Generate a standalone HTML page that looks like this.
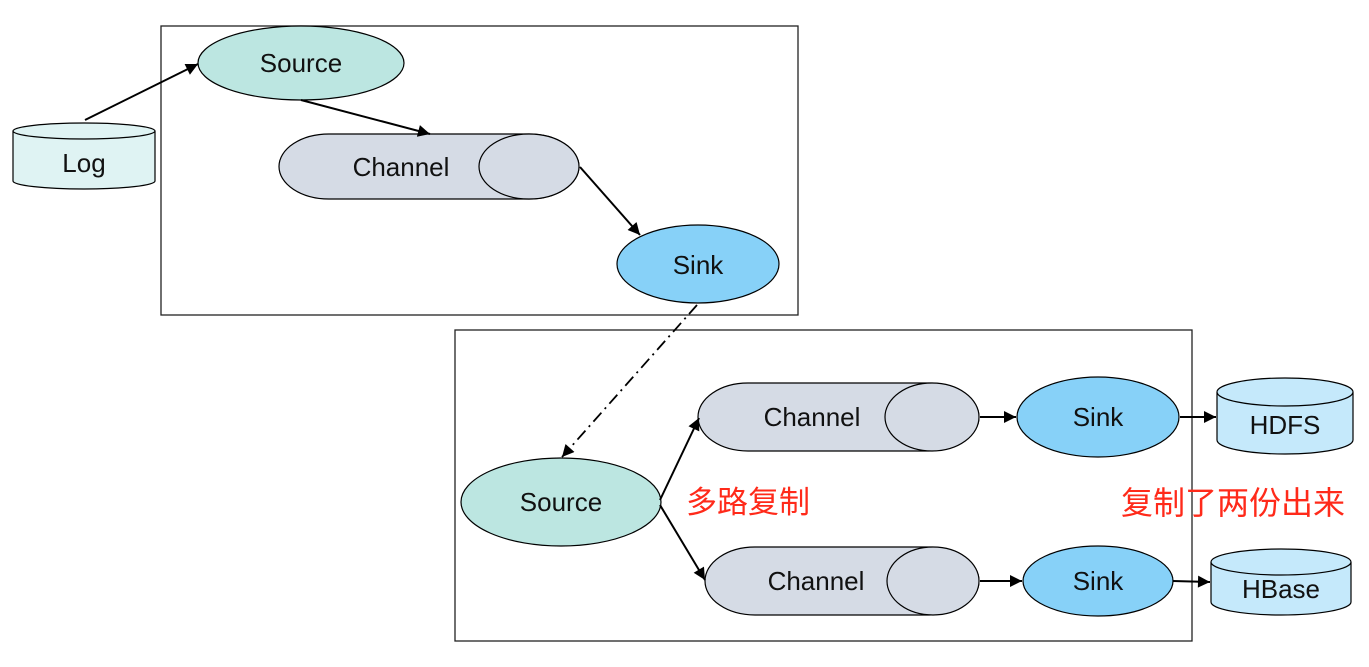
<!DOCTYPE html>
<html><head><meta charset="utf-8"><style>
html,body{margin:0;padding:0;background:#fff;}
svg{display:block;}
text{font-family:"Liberation Sans","Noto Sans CJK SC",sans-serif;}
</style></head><body>
<svg width="1369" height="667" viewBox="0 0 1369 667" xmlns="http://www.w3.org/2000/svg">
<defs>
<marker id="ah" viewBox="0 0 10 10" refX="10" refY="5" markerWidth="13" markerHeight="12" markerUnits="userSpaceOnUse" orient="auto">
<path d="M0,0 L10,5 L0,10 z" fill="#000"/>
</marker>
</defs>
<g fill="none" stroke="#222" stroke-width="1.3">
<rect x="161" y="26" width="637" height="289"/>
<rect x="455" y="330" width="737" height="311"/>
</g>
<g stroke="#000" stroke-width="1.2">
<path d="M13,131 V181 A71,8 0 0 0 155,181 V131" fill="#dff3f3"/>
<ellipse cx="84" cy="131" rx="71" ry="8" fill="#dff3f3"/>
<ellipse cx="301" cy="63" rx="103" ry="37" fill="#bce6e1"/>
<rect x="279" y="134" width="300" height="65" rx="50" ry="32.5" fill="#d5dbe5"/>
<ellipse cx="529" cy="166.5" rx="50" ry="32.5" fill="#d5dbe5"/>
<ellipse cx="698" cy="264" rx="81" ry="39" fill="#87d1f8"/>
<ellipse cx="561" cy="502" rx="100" ry="44" fill="#bce6e1"/>
<rect x="698" y="383" width="281" height="68" rx="50" ry="34" fill="#d5dbe5"/>
<ellipse cx="932" cy="417" rx="47" ry="34" fill="#d5dbe5"/>
<rect x="705" y="547" width="274" height="68" rx="50" ry="34" fill="#d5dbe5"/>
<ellipse cx="933" cy="581" rx="46" ry="34" fill="#d5dbe5"/>
<ellipse cx="1098" cy="417" rx="81" ry="40" fill="#87d1f8"/>
<ellipse cx="1098" cy="581" rx="75" ry="35" fill="#87d1f8"/>
<path d="M1217,392 V440 A68,14 0 0 0 1353,440 V392" fill="#c5e9fb"/>
<ellipse cx="1285" cy="392" rx="68" ry="14" fill="#c5e9fb"/>
<path d="M1211,562 V602 A70,13 0 0 0 1351,602 V562" fill="#c5e9fb"/>
<ellipse cx="1281" cy="562" rx="70" ry="13" fill="#c5e9fb"/>
</g>
<g stroke="#000" stroke-width="2" fill="none" marker-end="url(#ah)">
<line x1="85" y1="120" x2="198" y2="64"/>
<line x1="301" y1="100" x2="430" y2="134"/>
<line x1="580" y1="167" x2="640" y2="235"/>
<line x1="697" y1="305" x2="562" y2="457" stroke-dasharray="12,5,2,5" stroke-width="1.8"/>
<line x1="660" y1="500" x2="699" y2="418"/>
<line x1="660" y1="505" x2="705" y2="580"/>
<line x1="980" y1="417" x2="1016" y2="417"/>
<line x1="1180" y1="417" x2="1216" y2="417"/>
<line x1="980" y1="581" x2="1022" y2="581"/>
<line x1="1173" y1="581" x2="1210" y2="582"/>
</g>
<g font-size="26" fill="#111" text-anchor="middle">
<text x="84" y="172">Log</text>
<text x="301" y="72">Source</text>
<text x="401" y="176">Channel</text>
<text x="698" y="274">Sink</text>
<text x="561" y="511">Source</text>
<text x="812" y="426">Channel</text>
<text x="816" y="590">Channel</text>
<text x="1098" y="426">Sink</text>
<text x="1098" y="590">Sink</text>
<text x="1285" y="434">HDFS</text>
<text x="1281" y="598">HBase</text>
</g>
<g font-size="31" fill="#ff2a1a">
<text x="686" y="513">多路复制</text>
<text x="1121" y="514" font-size="32">复制了两份出来</text>
</g>
</svg>
</body></html>
